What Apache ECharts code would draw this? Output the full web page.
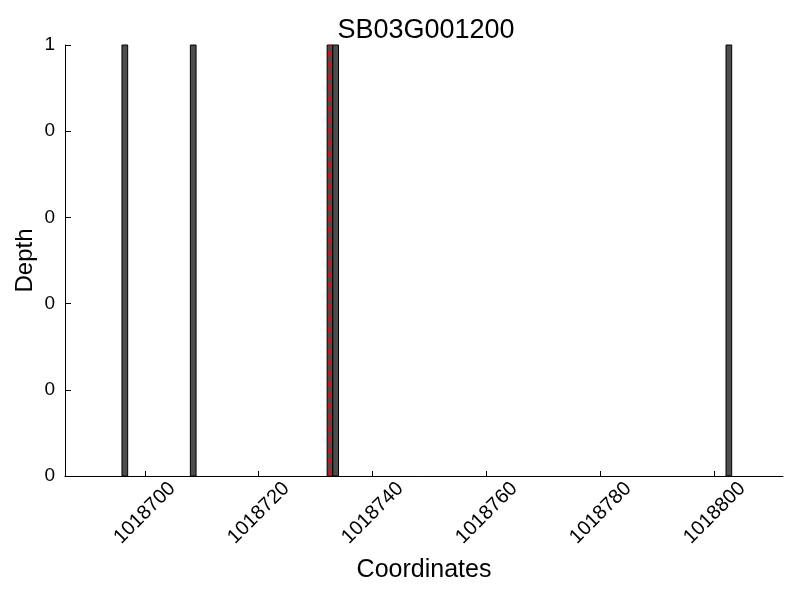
<!DOCTYPE html>
<html>
<head>
<meta charset="utf-8">
<script src="https://cdn.jsdelivr.net/npm/echarts@6/dist/echarts.min.js"></script>
<style>html,body{margin:0;padding:0;background:#fff}#c{width:800px;height:600px}</style>
</head>
<body>
<div id="c"></div>
<script>
const titleText = 'SB03G001200';
const xName = 'Coordinates';
const yName = 'Depth';
const barStarts = [1018696, 1018708, 1018732, 1018733, 1018802];
const depths = [1, 1, 1, 1, 1];
const markerPos = 1018732.5;
const xTicks = [1018700, 1018720, 1018740, 1018760, 1018780, 1018800];
const xMin = 1018686, xMax = 1018812;
const yMin = 0, yMax = 1, yStep = 0.2;

const FONT = 'Liberation Sans';
const chart = echarts.init(document.getElementById('c'), null, {renderer: 'canvas'});
const barData = barStarts.map((s, i) => [s, depths[i]]);
chart.setOption({
  animation: false,
  backgroundColor: '#fff',
  title: {
    text: titleText, left: 421, top: 12, textAlign: 'center',
    textStyle: {fontFamily: FONT, fontSize: 27, fontWeight: 'normal', color: '#000'}
  },
  grid: {left: 65, right: 17, top: 45, bottom: 124, outerBoundsMode: 'none', containLabel: false},
  xAxis: {
    type: 'value', min: xMin, max: xMax,
    name: xName, nameLocation: 'middle', nameGap: 82, nameMoveOverlap: false,
    nameTextStyle: {fontFamily: FONT, fontSize: 25, color: '#000'},
    axisLine: {show: true, lineStyle: {color: '#000', width: 1}},
    axisTick: {show: true, inside: true, length: 5, customValues: xTicks, lineStyle: {color: '#000'}},
    axisLabel: {
      customValues: xTicks, rotate: 45, align: 'center', verticalAlign: 'middle', margin: 37,
      fontFamily: FONT, fontSize: 20, color: '#000',
      formatter: v => String(v)
    },
    splitLine: {show: false}
  },
  yAxis: {
    type: 'value', min: yMin, max: yMax, interval: yStep,
    name: yName, nameLocation: 'middle', nameGap: 28, nameRotate: 90, nameMoveOverlap: false,
    nameTextStyle: {fontFamily: FONT, fontSize: 24, color: '#000'},
    axisLine: {show: true, lineStyle: {color: '#000', width: 1}},
    axisTick: {show: true, inside: true, length: 6, lineStyle: {color: '#000'}},
    axisLabel: {
      margin: 10, fontFamily: FONT, fontSize: 19, color: '#000',
      formatter: v => String(Math.floor(v + 1e-9))
    },
    splitLine: {show: false}
  },
  series: [
    {
      type: 'custom',
      data: barData,
      encode: {x: 0, y: 1},
      renderItem: function (params, api) {
        const x0 = api.value(0), d = api.value(1);
        const p0 = api.coord([x0, 0]);
        const p1 = api.coord([x0 + 1, d]);
        return {
          type: 'rect',
          shape: {x: p0[0], y: p1[1], width: p1[0] - p0[0], height: p0[1] - p1[1]},
          style: {fill: '#4d4d4d', stroke: '#000', lineWidth: 1}
        };
      },
      z: 2
    },
    {
      type: 'line',
      data: [[markerPos, yMin], [markerPos, yMax]],
      symbol: 'none',
      lineStyle: {color: '#ff0000', width: 2, type: [7, 4]},
      z: 5
    }
  ]
});
</script>
</body>
</html>
